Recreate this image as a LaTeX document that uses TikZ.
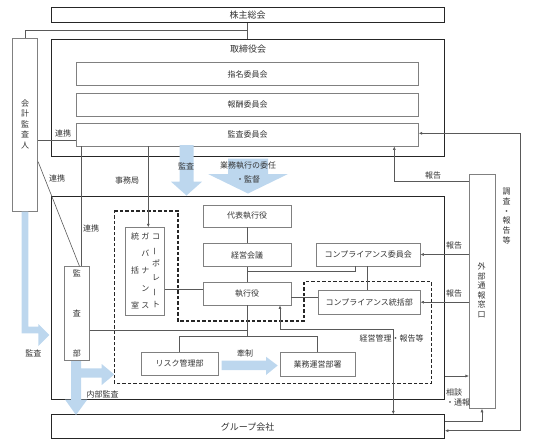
\documentclass[tikz,border=0pt]{standalone}
\usepackage{fontspec}
\setmainfont{Noto Sans CJK JP}
\usepackage{xcolor}
\usetikzlibrary{arrows.meta, positioning}
\definecolor{arrowblue}{RGB}{189,215,238}

\begin{document}
\begin{tikzpicture}[x=1pt, y=-1pt,
        every node/.style={font=\fontsize{8}{10}\selectfont, text=black!80},
        outerbox/.style={draw=black!85, line width=1.1pt, inner sep=0pt},
        unitbox/.style={draw=black!50, line width=0.8pt, inner sep=0pt},
        conn/.style={draw=black!65, line width=0.6pt},
        tipend/.style={-{Latex[length=3.5pt,width=3pt]}},
        bothends/.style={{Latex[length=3.5pt,width=3pt]}-{Latex[length=3.5pt,width=3pt]}},
        fatarrow/.style={fill=arrowblue, draw=none},
        vtext/.style={align=center, inner sep=0pt},
        groupline/.style={draw=black!85, line width=1.1pt, dash pattern=on 3.5pt off 2pt},
        bigtext/.style={font=\fontsize{9}{11}\selectfont}
    ]
        \useasboundingbox (0,0) rectangle (533,447);

        % governance side
        \node[outerbox, bigtext, minimum width=393.3, minimum height=15.4] (kabu) at (247.7,15) {株主総会};
        \node[outerbox, minimum width=393.3, minimum height=116.7] (tori) at (247.7,97.7) {};
        \node[bigtext] (torilbl) at (248,49) {取締役会};
        \node[unitbox, minimum width=341.6, minimum height=23] (shimei) at (247.5,74.2) {指名委員会};
        \node[unitbox, minimum width=341.6, minimum height=22.7] (houshu) at (247.5,104.7) {報酬委員会};
        \node[unitbox, minimum width=341.6, minimum height=22.7] (kansa) at (247.5,134.7) {監査委員会};
        \node[unitbox, minimum width=25, minimum height=173.4] (kaikei) at (25.2,125) {};
        \node[vtext, font=\fontsize{8}{10.5}\selectfont] (kaikeilbl) at (25.2,124) {会\\計\\監\\査\\人};

        % execution side
        \node[outerbox, minimum width=393.3, minimum height=203.5] (shikko) at (247.7,297.8) {};
        \node[outerbox, bigtext, minimum width=393.3, minimum height=23.5] (group) at (247.7,426.6) {グループ会社};
        \node[unitbox, minimum width=25, minimum height=94] (kansabu) at (76.8,313.7) {};
        \node[vtext, font=\fontsize{8}{40}\selectfont] (kansabulbl) at (76.8,313.5) {監\\査\\部};
        \node[unitbox, minimum width=39.3, minimum height=87.3] (cg) at (144.7,271.3) {};
        \node[vtext, font=\fontsize{8}{34.15}\selectfont] (cgleft) at (135,270.8) {統\\括\\室};
        \node[vtext, font=\fontsize{8}{17.07}\selectfont] (cgmid) at (145.3,270.8) {ガ\\バ\\ナ\\ン\\ス};
        \node[vtext, font=\fontsize{8}{13.66}\selectfont] (cgright) at (156,270.8)
            {コ\\\rotatebox[origin=c]{90}{ー}\\ポ\\レ\\\rotatebox[origin=c]{90}{ー}\\ト};
        \node[unitbox, minimum width=88, minimum height=22] (daihyo) at (247,216) {代表執行役};
        \node[unitbox, minimum width=88, minimum height=23] (keiei) at (247,255) {経営会議};
        \node[unitbox, minimum width=88, minimum height=22.7] (shikkoyaku) at (247,293.7) {執行役};
        \node[unitbox, minimum width=103.3, minimum height=23] (compiin) at (368.3,254.5) {コンプライアンス委員会};
        \node[unitbox, minimum width=101.7, minimum height=23.5] (comptou) at (369.2,302.2) {コンプライアンス統括部};
        \node[unitbox, minimum width=77.3, minimum height=22.3] (risk) at (179.7,363.8) {リスク管理部};
        \node[unitbox, minimum width=75, minimum height=23.3] (gyomu) at (317.5,364.3) {業務運営部署};
        \node[unitbox, minimum width=25.7, minimum height=234.3] (gaibu) at (482.2,291.2) {};
        \node[vtext, font=\fontsize{8}{9.5}\selectfont] (gaibulbl) at (481.7,290.3) {外\\部\\通\\報\\窓\\口};

        \draw[groupline] (114.3,211) -- (178,211) -- (178,321) -- (304,321) -- (304,281.5)
            -- (431.7,281.5) -- (431.7,383.3) -- (114.3,383.3) -- cycle;

        % connectors
        \draw[conn] (kabu.south) -- (tori.north);
        \draw[conn] (kabu.south |- 0,30.7) -| (kaikei.north);
        \draw[conn] (kaikei.east |- 0,140.7) -- (kansa.west |- 0,140.7);
        \draw[conn] (kansa.south -| 81.7,0) -- (kansabu.north -| 81.7,0);
        \draw[conn] (kaikei.east |- 0,161.7) -- (kansabu.north -| 79.5,0);
        \draw[conn, tipend] (kansa.south -| 148.3,0) -- (cg.north -| 148.3,0);

        \draw[conn] (daihyo) -- (keiei);
        \draw[conn] (keiei) -- (shikkoyaku);
        \draw[conn] (keiei.south |- 0,271.7) -| (compiin.south -| 355,0);
        \draw[conn] (compiin.south -| 367.5,0) -- (comptou.north -| 367.5,0);
        \draw[conn] (shikkoyaku.east |- 0,297.7) -- (comptou.west |- 0,297.7);
        \draw[conn] (cg.east |- 0,289.3) -- (shikkoyaku.west |- 0,289.3);
        \draw[conn] (shikkoyaku.south) -- (shikkoyaku.south |- 0,336.7) coordinate (fork);
        \draw[conn] (fork) -| (risk.north);
        \draw[conn] (fork) -| (gyomu.north);
        \draw[conn] (kansabu.east |- 0,330) -- (fork |- 0,330);
        \draw[conn, bothends] (shikkoyaku.south -| 280,0) |- (393.3,329.3) -- (group.north -| 393.3,0);

        \draw[conn, tipend] (gaibu.west |- 0,181.7) -| (kansa.south -| 394.3,0);
        \draw[conn, bothends] (group.east |- 0,430.7) -| (520,133.3) -- (kansa.east |- 0,133.3);
        \draw[conn, tipend] (gaibu.west |- compiin.east) -- (compiin.east);
        \draw[conn, tipend] (gaibu.west |- comptou.east) -- (comptou.east);
        \draw[conn, tipend] (shikko.east |- 0,376) -- (gaibu.west |- 0,376);
        \draw[conn, tipend] (group.east |- 0,421.5) -| (gaibu.south -| 482,0);

        % fat arrows
        \fill[fatarrow] (179.5,145) -- (193.5,145) -- (193.5,181.7) -- (202,181.7) -- (186.5,195.5)
            -- (171,181.7) -- (179.5,181.7) -- cycle;
        \fill[fatarrow] (228,158.5) -- (268,158.5) -- (268,174) -- (288,174) -- (248,193.5)
            -- (208,174) -- (228,174) -- cycle;
        \fill[fatarrow] (21.7,211.7) -- (28.3,211.7) -- (28.3,326.7) -- (38.3,326.7) -- (38.3,324)
            -- (49.3,335) -- (38.3,346) -- (38.3,333.3) -- (21.7,333.3) -- cycle;
        \fill[fatarrow] (71,361) -- (81,361) -- (81,368.3) -- (101.7,368.3) -- (101.7,364)
            -- (114.3,374.5) -- (101.7,385) -- (101.7,377.7) -- (81,377.7) -- (81,399.5)
            -- (87.3,399.5) -- (76,415) -- (65,399.5) -- (71,399.5) -- cycle;
        \fill[fatarrow] (221.7,360.7) -- (266,360.7) -- (266,356.7) -- (277.7,365.5) -- (266,375)
            -- (266,370) -- (221.7,370) -- cycle;

        % labels
        \node (renkei1) at (63,133) {連携};
        \node (renkei2) at (57,178.3) {連携};
        \node (renkei3) at (91,228) {連携};
        \node (jimu) at (127,180) {事務局};
        \node (kansalbl) at (186,166) {監査};
        \node (inin) at (248,166) {業務執行の委任};
        \node (kantoku) at (248,179.5) {・監督};
        \node (hokoku1) at (433,175) {報告};
        \node (hokoku2) at (454,245.7) {報告};
        \node (hokoku3) at (454,293.3) {報告};
        \node (keieikanri) at (391.5,338) {経営管理・報告等};
        \node (kensei) at (245,353) {牽制};
        \node[anchor=west, align=left, inner sep=0pt] (soudan) at (446,397.5) {相談\\・通報};
        \node (kansa2) at (33.3,353.3) {監査};
        \node (naibu) at (102.5,394) {内部監査};
        \node[vtext, font=\fontsize{8}{9.7}\selectfont] (chousa) at (506.7,216) {調\\査\\・\\報\\告\\等};
    \end{tikzpicture}
\end{document}
